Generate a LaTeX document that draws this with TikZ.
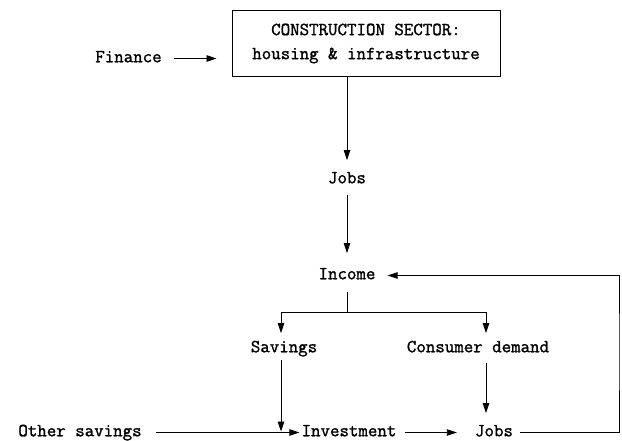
\documentclass[tikz,border=0pt]{standalone}
\usepackage{fontspec}
\newfontfamily\typer[FakeBold = 1.4]{Latin Modern Mono}
\usetikzlibrary{arrows.meta}
\tikzset{lbl/.style = {font = \typer\fontsize{18.4}{19}\selectfont, inner sep = 0, text height = 11pt, text depth = 3.5pt}}
\tikzset{sector/.style = {draw, line width = 1pt, font = \typer\fontsize{18.4}{24}\selectfont, align = center, minimum width = 268pt, minimum height = 66.5pt}}
\tikzset{flow/.style = {-{Triangle[length = 10pt, width = 6.5pt]}, line width = 0.8pt}}
\tikzset{wire/.style = {line width = 0.8pt}}

\begin{document}
\begin{tikzpicture}[x = 1pt, y = -1pt]
    \useasboundingbox (0, 0) rectangle (622, 440);

    \node [sector] (sector) at (366, 43.5) {CONSTRUCTION SECTOR:\\housing \& infrastructure};
    \node [lbl] (finance) at (128.5, 58.5) {Finance};
    \node [lbl] (jobsA) at (347, 179.5) {Jobs};
    \node [lbl] (income) at (347, 275.5) {Income};
    \node [lbl] (sav) at (284, 348.5) {Savings};
    \node [lbl] (cons) at (478, 348.5) {Consumer demand};
    \node [lbl] (other) at (80, 432.5) {Other savings};
    \node [lbl] (inv) at (349, 432.5) {Investment};
    \node [lbl] (jobsB) at (494, 432.5) {Jobs};

    \coordinate (split) at (347, 312);
    \coordinate (loop) at (619, 350);

    \draw [flow, shorten <= 12pt, shorten >= 15pt] (finance.east) -- (finance.east -| sector.west);
    \draw [flow, shorten >= 12pt] (sector.south -| jobsA) -- (jobsA.north);
    \draw [flow, shorten <= 8pt, shorten >= 15pt] (jobsA.south) -- (income.north);

    % split of income
    \draw [wire, shorten <= 9pt] (income.south) -- (split);
    \draw [flow, shorten >= 8pt] (split) -| ([xshift = -3pt]sav.north);
    \draw [flow, shorten >= 8pt] (split) -| ([xshift = 8pt]cons.north);

    \draw [flow, shorten <= 4pt, shorten >= 1pt] ([xshift = -3pt]sav.south) -- ([xshift = -3pt]sav.south |- inv.west);
    \draw [flow, shorten <= 7pt, shorten >= 12pt] ([xshift = 8pt]cons.south) -- ([xshift = -8pt]jobsB.north);

    % bottom row
    \draw [flow, shorten <= 14pt, shorten >= 2pt] (other.east) -- (inv.west);
    \draw [flow, shorten <= 8pt, shorten >= 18pt] (inv.east) -- (jobsB.west);
    \draw [flow, shorten <= 7pt, shorten >= 12pt] (jobsB.east) -| (loop) |- (income.east);
  \end{tikzpicture}
\end{document}
